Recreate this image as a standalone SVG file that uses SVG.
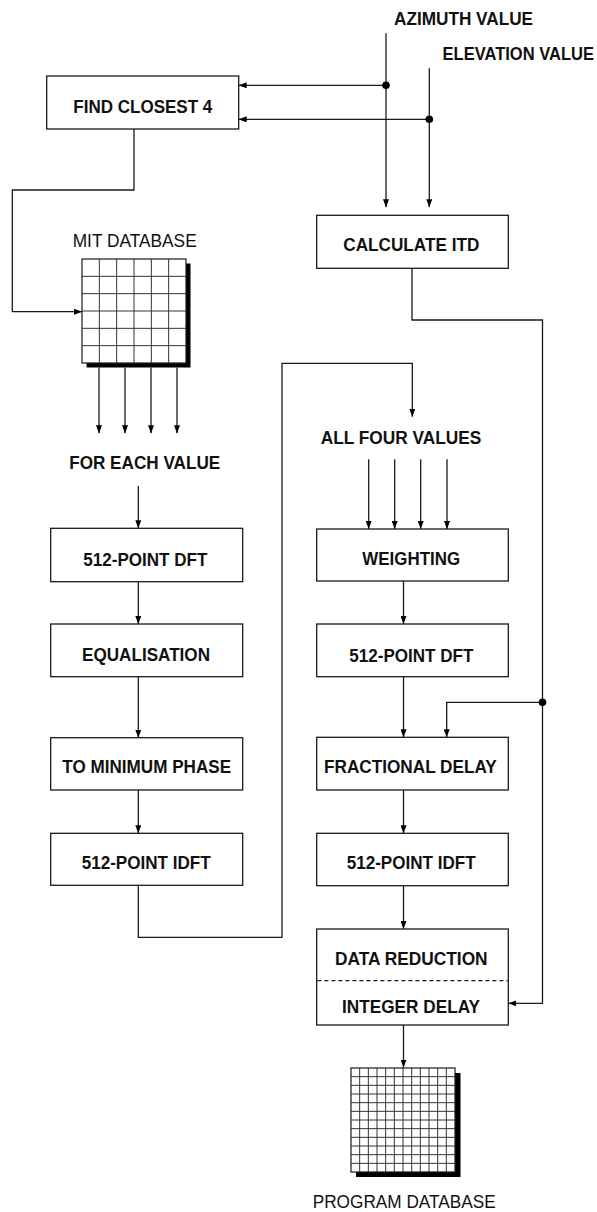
<svg xmlns="http://www.w3.org/2000/svg" width="597" height="1212" viewBox="0 0 597 1212">
  <style>
    .box { fill: #fff; stroke: #1a1a1a; stroke-width: 1.3; }
    .wire { fill: none; stroke: #1a1a1a; stroke-width: 1.3; }
    .arr { marker-end: url(#head); }
    .dot { fill: #000; }
    .lbl { font-family: "Liberation Sans", Arial, sans-serif; font-weight: bold; font-size: 19px; fill: #111; text-anchor: middle; }
    .cap { font-family: "Liberation Sans", Arial, sans-serif; font-size: 19px; fill: #111; text-anchor: middle; }
    .grid { fill: none; stroke: #333; stroke-width: 1; }
    .shadow { fill: #000; }
    .dash { stroke: #1a1a1a; stroke-width: 1.2; stroke-dasharray: 4 3; }
  </style>
  <defs>
    <marker id="head" viewBox="0 0 8 6" refX="8" refY="3" markerWidth="8" markerHeight="6" markerUnits="userSpaceOnUse" orient="auto">
      <path d="M0,0 L8,3 L0,6 z" fill="#000"/>
    </marker>
  </defs>

  <rect width="597" height="1212" fill="#fff"/>

  <!-- input labels -->
  <g id="azimuth">
    <text class="lbl" x="463.5" y="25" textLength="139" lengthAdjust="spacingAndGlyphs">AZIMUTH VALUE</text>
  </g>
  <g id="elevation" transform="translate(594,60) scale(0.87,1)">
    <text class="lbl" x="0" y="0" style="text-anchor:end">ELEVATION VALUE</text>
  </g>

  <!-- left column -->
  <g id="find-closest">
    <rect class="box" x="46.7" y="76" width="192" height="53"/>
    <text class="lbl" x="142.8" y="112.7" textLength="139" lengthAdjust="spacingAndGlyphs">FIND CLOSEST 4</text>
  </g>

  <g id="mit-database">
    <text class="cap" x="134.7" y="246.7" textLength="124" lengthAdjust="spacingAndGlyphs">MIT DATABASE</text>
    <rect class="shadow" x="86.5" y="263.5" width="104" height="104"/>
    <rect x="82" y="259" width="104" height="104" fill="#fff" stroke="#1a1a1a" stroke-width="1.2"/>
    <path class="grid" d="M99.33,259V363 M116.67,259V363 M134,259V363 M151.33,259V363 M168.67,259V363
                          M82,276.33H186 M82,293.67H186 M82,311H186 M82,328.33H186 M82,345.67H186"/>
  </g>

  <g id="for-each-value">
    <text class="lbl" x="144.7" y="469.3" textLength="151" lengthAdjust="spacingAndGlyphs">FOR EACH VALUE</text>
  </g>

  <g id="left-dft">
    <rect class="box" x="50.7" y="528.3" width="192" height="53.4"/>
    <text class="lbl" x="145.3" y="565.7" textLength="124" lengthAdjust="spacingAndGlyphs">512-POINT DFT</text>
  </g>
  <g id="equalisation">
    <rect class="box" x="50.7" y="624" width="192" height="52.7"/>
    <text class="lbl" x="146" y="661.3" textLength="128" lengthAdjust="spacingAndGlyphs">EQUALISATION</text>
  </g>
  <g id="minimum-phase">
    <rect class="box" x="50.7" y="737.7" width="192" height="52.3"/>
    <text class="lbl" x="146.7" y="773.3" textLength="168.7" lengthAdjust="spacingAndGlyphs">TO MINIMUM PHASE</text>
  </g>
  <g id="left-idft">
    <rect class="box" x="50.7" y="833.3" width="192" height="52"/>
    <text class="lbl" x="146.2" y="869.3" textLength="129" lengthAdjust="spacingAndGlyphs">512-POINT IDFT</text>
  </g>

  <!-- right column -->
  <g id="calculate-itd">
    <rect class="box" x="316.7" y="215.3" width="191.6" height="53"/>
    <text class="lbl" x="411.3" y="251.3" textLength="136" lengthAdjust="spacingAndGlyphs">CALCULATE ITD</text>
  </g>
  <g id="all-four-values">
    <text class="lbl" x="401" y="444" textLength="160.6" lengthAdjust="spacingAndGlyphs">ALL FOUR VALUES</text>
  </g>
  <g id="weighting">
    <rect class="box" x="316.7" y="529" width="191.6" height="52"/>
    <text class="lbl" x="411.2" y="565" textLength="97.7" lengthAdjust="spacingAndGlyphs">WEIGHTING</text>
  </g>
  <g id="right-dft">
    <rect class="box" x="316.7" y="624" width="191.6" height="52.7"/>
    <text class="lbl" x="411.3" y="661.5" textLength="124" lengthAdjust="spacingAndGlyphs">512-POINT DFT</text>
  </g>
  <g id="fractional-delay">
    <rect class="box" x="316.7" y="737.3" width="191.6" height="52.7"/>
    <text class="lbl" x="410.4" y="772.7" textLength="172.7" lengthAdjust="spacingAndGlyphs">FRACTIONAL DELAY</text>
  </g>
  <g id="right-idft">
    <rect class="box" x="316.7" y="833.3" width="191.6" height="52.4"/>
    <text class="lbl" x="411.2" y="869.3" textLength="129" lengthAdjust="spacingAndGlyphs">512-POINT IDFT</text>
  </g>
  <g id="reduction-delay">
    <rect class="box" x="316.7" y="929" width="191.6" height="96"/>
    <line class="dash" x1="317.4" y1="980.7" x2="507.6" y2="980.7"/>
    <text class="lbl" x="411.3" y="965" textLength="152.7" lengthAdjust="spacingAndGlyphs">DATA REDUCTION</text>
    <text class="lbl" x="411" y="1013.3" textLength="138" lengthAdjust="spacingAndGlyphs">INTEGER DELAY</text>
  </g>

  <g id="program-database">
    <rect class="shadow" x="356" y="1073" width="104.5" height="104"/>
    <rect x="351" y="1068" width="104" height="104" fill="#fff" stroke="#1a1a1a" stroke-width="1.2"/>
    <path class="grid" d="M359.67,1068V1172 M368.33,1068V1172 M377,1068V1172 M385.67,1068V1172 M394.33,1068V1172 M403,1068V1172
                          M411.67,1068V1172 M420.33,1068V1172 M429,1068V1172 M437.67,1068V1172 M446.33,1068V1172
                          M351,1076.67H455 M351,1085.33H455 M351,1094H455 M351,1102.67H455 M351,1111.33H455 M351,1120H455
                          M351,1128.67H455 M351,1137.33H455 M351,1146H455 M351,1154.67H455 M351,1163.33H455"/>
    <text class="cap" x="404.2" y="1208.3" textLength="183" lengthAdjust="spacingAndGlyphs">PROGRAM DATABASE</text>
  </g>

  <!-- connectors -->
  <g id="connectors">
    <!-- direction inputs -->
    <path class="wire arr" d="M386,33.3V207.3"/>
    <path class="wire arr" d="M429.3,68.3V207.3"/>
    <path class="wire arr" d="M386,85.3H238.7"/>
    <path class="wire arr" d="M429.3,119.3H238.7"/>
    <circle class="dot" cx="386" cy="85.3" r="3.8"/>
    <circle class="dot" cx="429.3" cy="119.3" r="3.8"/>

    <!-- closest four into the measured set -->
    <path class="wire arr" d="M134,129V190H12.3V311.7H82"/>

    <!-- the four responses out of the measured set -->
    <path class="wire arr" d="M99,367.5V433.3"/>
    <path class="wire arr" d="M125,367.5V433.3"/>
    <path class="wire arr" d="M151,367.5V433.3"/>
    <path class="wire arr" d="M177,367.5V433.3"/>

    <!-- left processing chain -->
    <path class="wire arr" d="M138.3,486V528.3"/>
    <path class="wire arr" d="M138.3,581.7V624"/>
    <path class="wire arr" d="M138.3,676.7V737.7"/>
    <path class="wire arr" d="M138.3,790V833.3"/>

    <!-- hand-over to the right column -->
    <path class="wire arr" d="M138.3,885.3V937.3H282V363.3H412.3V416.7"/>

    <!-- four values into weighting -->
    <path class="wire arr" d="M368.7,459.3V529"/>
    <path class="wire arr" d="M394.7,459.3V529"/>
    <path class="wire arr" d="M420.7,459.3V529"/>
    <path class="wire arr" d="M447,459.3V529"/>

    <!-- right processing chain -->
    <path class="wire arr" d="M403.5,581V624"/>
    <path class="wire arr" d="M403.5,676.7V737.3"/>
    <path class="wire arr" d="M403.5,790V833.3"/>
    <path class="wire arr" d="M403.5,885.7V929"/>
    <path class="wire arr" d="M403.5,1025V1067.5"/>

    <!-- ITD distribution -->
    <path class="wire arr" d="M412,268.3V320H542.5V1003.3H508.3"/>
    <path class="wire arr" d="M542.5,702.3H446.7V737.3"/>
    <circle class="dot" cx="542.5" cy="702.3" r="3.8"/>
  </g>
</svg>
